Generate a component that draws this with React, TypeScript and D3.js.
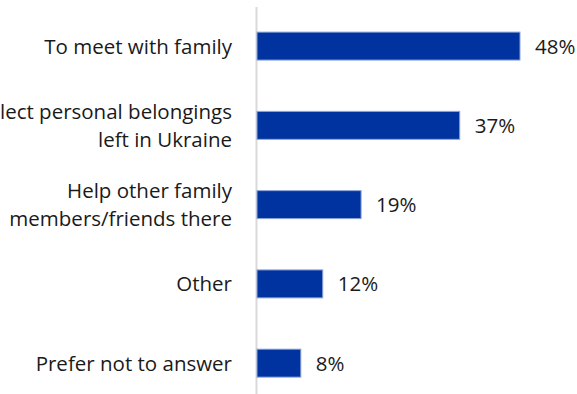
import React from "react";
import * as d3 from "d3";

const categories: string[][] = [
  ["To meet with family"],
  ["lect personal belongings", "left in Ukraine"],
  ["Help other family", "members/friends there"],
  ["Other"],
  ["Prefer not to answer"],
];
const values: number[] = [48, 37, 19, 12, 8];
const valueLabels: string[] = ["48%", "37%", "19%", "12%", "8%"];

const W = 577;
const H = 394;
const axisX = 256.5;
const FONT = "'Open Sans', Lato, sans-serif";

export default function App() {
  const x = d3.scaleLinear().domain([0, 48]).range([axisX + 0.5, 520]);
  const idx = d3.range(values.length).map(String);
  const y = d3
    .scaleBand<string>()
    .domain(idx)
    .range([6.5, 402.75])
    .paddingInner(0.647)
    .paddingOuter(0.323);
  const bw = y.bandwidth();
  const lineH = 28.5;

  return (
    <svg
      width={W}
      height={H}
      style={{ position: "fixed", left: 0, top: 0, background: "#fff" }}
      fontFamily={FONT}
    >
      <line x1={axisX} x2={axisX} y1={7} y2={H} stroke="#d9d9d9" strokeWidth={2} />
      {values.map((v, i) => {
        const y0 = y(String(i))!;
        const cy = y0 + bw / 2;
        const lines = categories[i];
        const n = lines.length;
        return (
          <g key={i}>
            <rect
              x={x(0)}
              y={y0}
              width={x(v) - x(0)}
              height={bw}
              fill="#0033A0"
              stroke="#8ea6d8"
              strokeWidth={1}
            />
            {lines.map((t, j) => (
              <text
                key={j}
                x={232}
                y={cy + 7.5 + (j - (n - 1) / 2) * lineH}
                textAnchor="end"
                fontSize={20.5}
                fontWeight={400}
                fill="#1a1a1a"
              >
                {t}
              </text>
            ))}
            <text x={x(v) + 15} y={cy + 7.5} fontSize={20.5} fontWeight={400} fill="#1a1a1a">
              {valueLabels[i]}
            </text>
          </g>
        );
      })}
    </svg>
  );
}
